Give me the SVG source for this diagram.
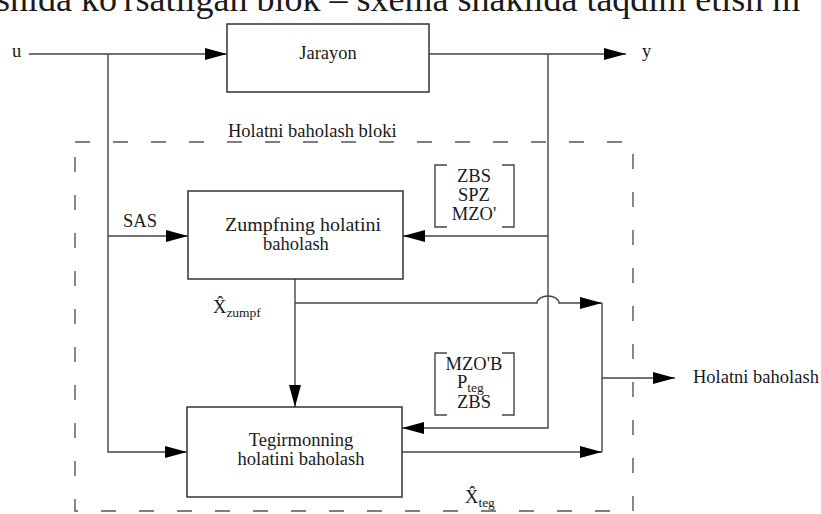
<svg xmlns="http://www.w3.org/2000/svg" width="821" height="514" viewBox="0 0 821 514">
<style>
text{font-family:"Liberation Serif","Times New Roman",serif;fill:#1a1a1a;font-size:18.5px}
.c{text-anchor:middle}
.sub{font-size:13.5px}
.box{fill:#fff;stroke:#333;stroke-width:1.5}
.ln{fill:none;stroke:#444;stroke-width:1.4}
.br{fill:none;stroke:#444;stroke-width:1.4}
.dash{fill:none;stroke:#555;stroke-width:1.4;stroke-dasharray:15 23}
</style>
<defs>
<marker id="ar" markerUnits="userSpaceOnUse" markerWidth="23" markerHeight="13" refX="22" refY="6" orient="auto">
<path d="M0,0 L22,6 L0,12 z" fill="#000"/>
</marker>
</defs>
<rect width="821" height="514" fill="#fff"/>
<text x="-4" y="11" style="font-size:36px">snida ko'rsatilgan blok – sxema shaklida taqdim etish m</text>

<g id="boundary">
<rect class="dash" x="75" y="142" width="558" height="369"/>
<text x="228" y="137">Holatni baholash bloki</text>
</g>

<g id="connectors">
<path class="ln" d="M29,54 H227" marker-end="url(#ar)"/>
<path class="ln" d="M108,54 V452 H187" marker-end="url(#ar)"/>
<path class="ln" d="M108,236 H188" marker-end="url(#ar)"/>
<path class="ln" d="M429,54 H626" marker-end="url(#ar)"/>
<path class="ln" d="M548,54 V428 H402" marker-end="url(#ar)"/>
<path class="ln" d="M548,236 H403" marker-end="url(#ar)"/>
<path class="ln" d="M295,279 V407" marker-end="url(#ar)"/>
<path class="ln" d="M295,303 H537 A11,7 0 0 1 559,303 H602" marker-end="url(#ar)"/>
<path class="ln" d="M602,303 V452"/>
<path class="ln" d="M402,452 H602" marker-end="url(#ar)"/>
<path class="ln" d="M602,378 H675" marker-end="url(#ar)"/>
</g>

<g id="jarayon">
<rect class="box" x="227" y="24" width="202" height="68"/>
<text class="c" x="328" y="59">Jarayon</text>
</g>

<g id="zumpf">
<rect class="box" x="188" y="191" width="215" height="88"/>
<text class="c" x="303" y="231" textLength="156" lengthAdjust="spacingAndGlyphs">Zumpfning holatini</text>
<text class="c" x="296" y="250">baholash</text>
</g>

<g id="tegirmon">
<rect class="box" x="187" y="407" width="215" height="90"/>
<text class="c" x="301" y="446">Tegirmonning</text>
<text class="c" x="301" y="465">holatini baholash</text>
</g>

<g id="labels">
<text x="12" y="57">u</text>
<text x="642" y="57">y</text>
<text x="123" y="227">SAS</text>
<text x="693" y="383">Holatni baholash</text>
<text x="213" y="313">X̂<tspan class="sub" dy="4">zumpf</tspan></text>
<text x="465" y="503">X̂<tspan class="sub" dy="4">teg</tspan></text>
</g>

<g id="bracket1">
<path class="br" d="M447,165 H435 V227 H447 M502,165 H514 V227 H502"/>
<text class="c" x="474" y="182">ZBS</text>
<text class="c" x="474" y="201">SPZ</text>
<text class="c" x="474" y="220">MZO'</text>
</g>

<g id="bracket2">
<path class="br" d="M447,353 H435 V415 H447 M502,353 H514 V415 H502"/>
<text class="c" x="474" y="370">MZO'B</text>
<text x="457" y="388">P<tspan class="sub" dy="4">teg</tspan></text>
<text class="c" x="474" y="408">ZBS</text>
</g>
</svg>
